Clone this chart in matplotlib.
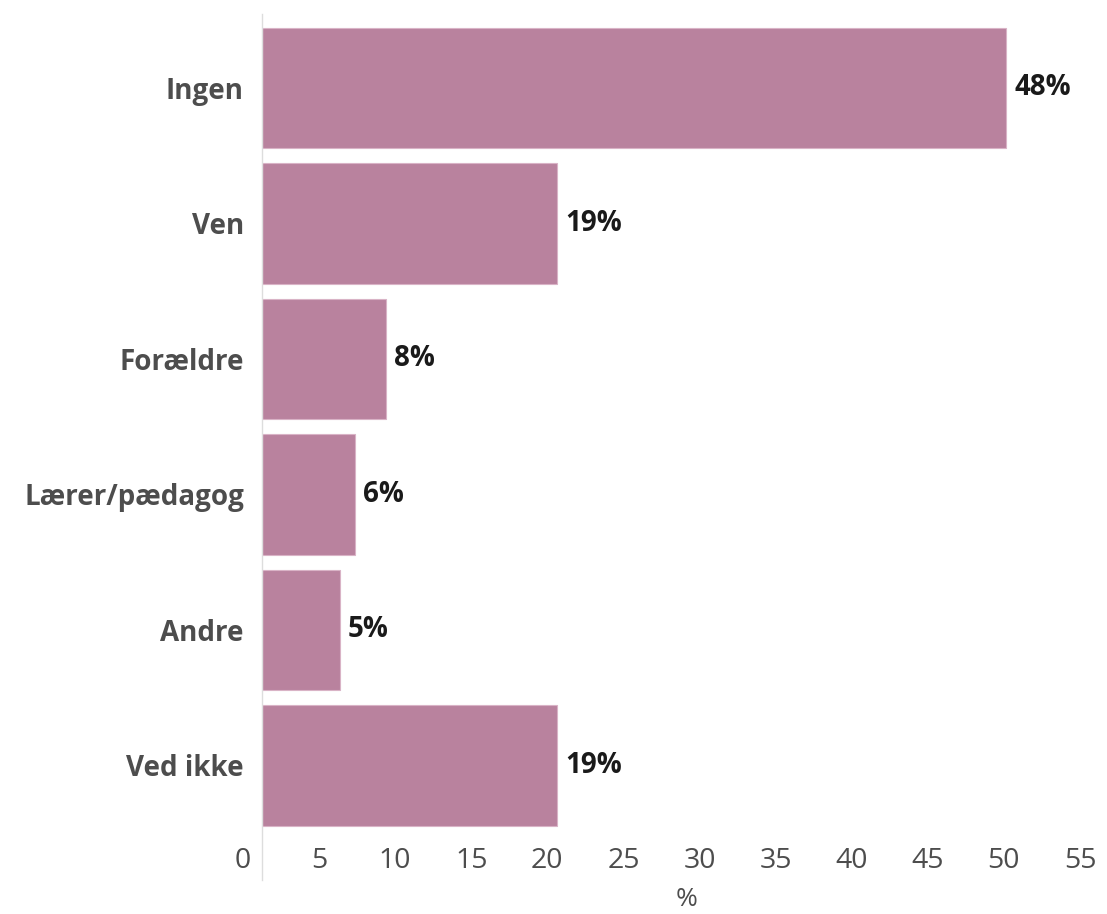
import matplotlib
matplotlib.use("Agg")
import matplotlib.pyplot as plt

# data
categories = ["Ingen", "Ven", "Forældre", "Lærer/pædagog", "Andre", "Ved ikke"]
values = [48, 19, 8, 6, 5, 19]
value_labels = ["48%", "19%", "8%", "6%", "5%", "19%"]
tick_values = [0, 5, 10, 15, 20, 25, 30, 35, 40, 45, 50, 55]

bar_color = "#b9829e"
label_color = "#4d4d4d"

plt.rcParams["font.family"] = ["Open Sans", "DejaVu Sans"]

W, H = 1107, 914
fig = plt.figure(figsize=(W / 100, H / 100), dpi=100)

# main axes (bars)
ax = fig.add_axes([262 / W, (H - 880) / H, 837 / W, 866 / H])
y = list(range(len(categories)))
ax.barh(y, values, height=0.89, color=bar_color, edgecolor="#d9b3c6", linewidth=0.8)
ax.set_xlim(0, 54)
ax.set_ylim(5.845, -0.546)
ax.set_yticks(y)
ax.set_yticklabels(categories, fontsize=20, fontweight="bold", color=label_color)
ax.tick_params(axis="y", length=0, pad=13)
ax.set_xticks([])
for s in ["top", "right", "bottom"]:
    ax.spines[s].set_visible(False)
ax.spines["left"].set_color("#dddddd")
ax.spines["left"].set_linewidth(1)

for yi, v, lab in zip(y, values, value_labels):
    ax.annotate(lab, (v, yi), xytext=(6, 0), textcoords="offset points",
                va="center", ha="left", fontsize=20, fontweight="bold", color="#1a1a1a")

# x tick labels axis
ax2 = fig.add_axes([243 / W, (H - 847) / H, 837 / W, 0.0001])
ax2.set_xlim(0, 55)
ax2.set_xticks(tick_values)
ax2.set_xticklabels([str(t) for t in tick_values], fontsize=20.5, fontweight="medium",
                    color=label_color)
ax2.tick_params(axis="x", length=0, pad=0)
ax2.set_yticks([])
ax2.patch.set_visible(False)
for s in ax2.spines.values():
    s.set_visible(False)

fig.text(687 / W, 1 - 899 / H, "%", ha="center", va="center", fontsize=19, color=label_color)

fig.savefig("out.png", dpi=100)
